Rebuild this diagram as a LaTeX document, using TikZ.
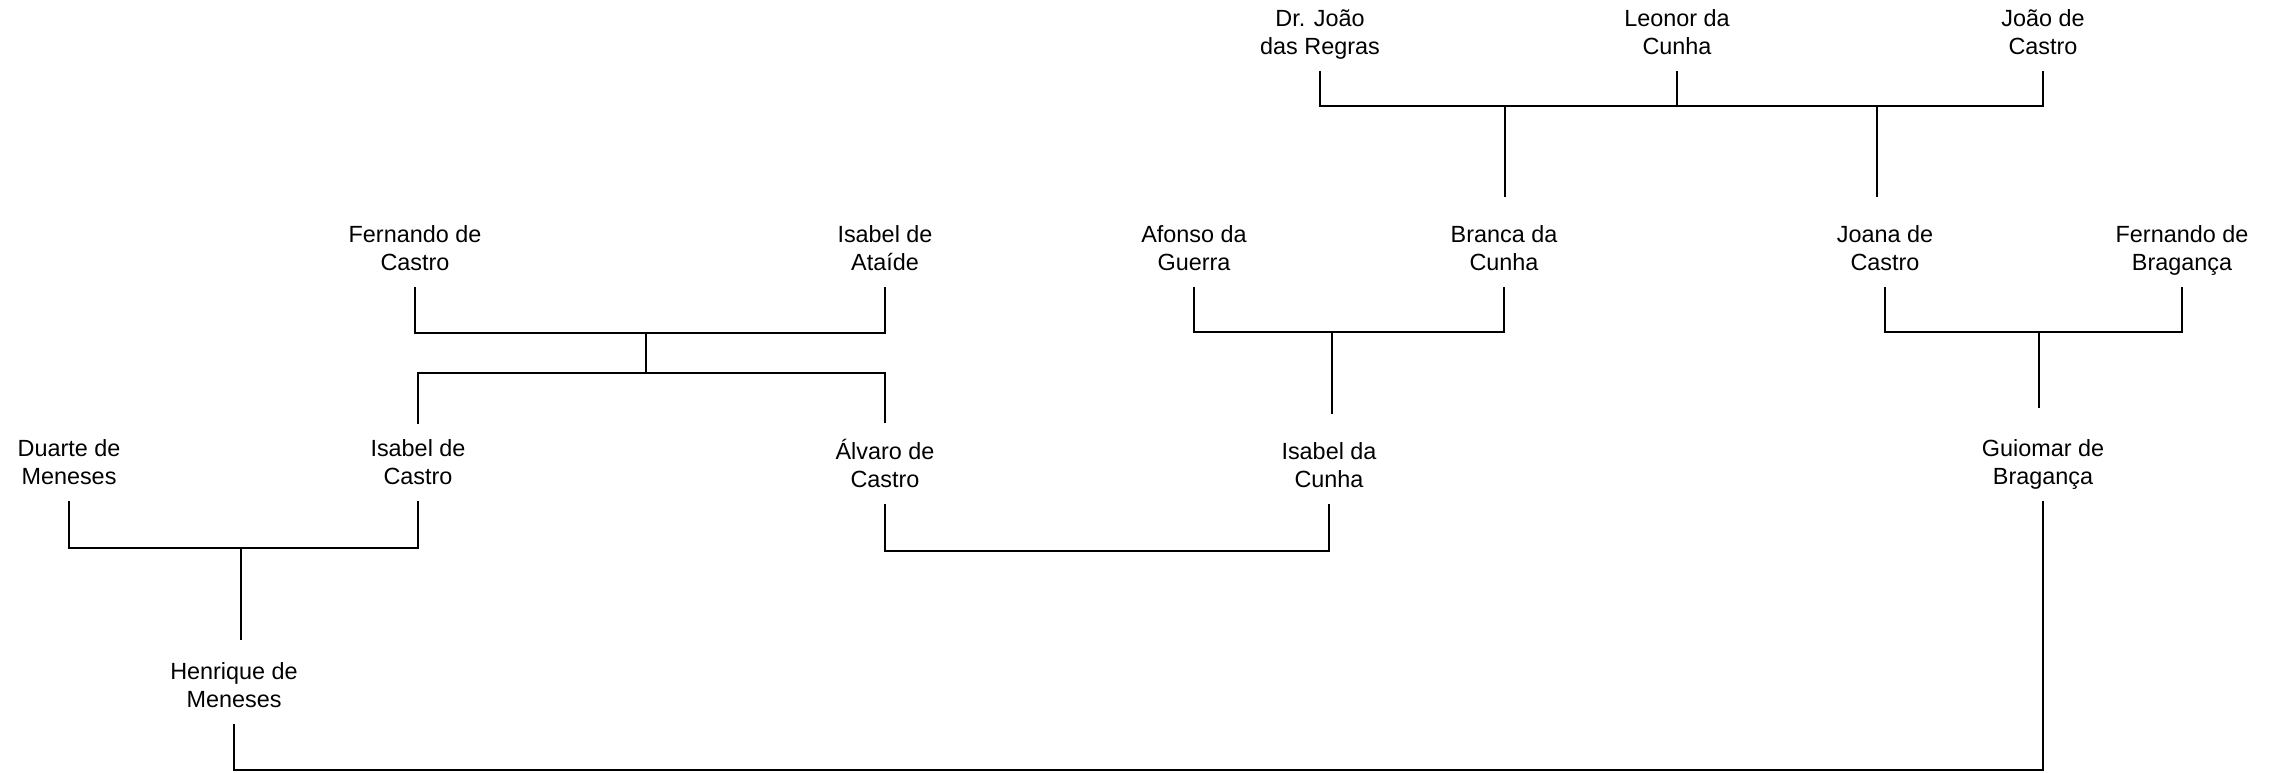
\documentclass[tikz,border=0pt]{standalone}
\usepackage{fontspec}
\setmainfont{Liberation Sans}
\usetikzlibrary{calc}

\begin{document}
\begin{tikzpicture}[x=0.5pt, y=-0.5pt,
  every node/.style={align=center, inner xsep=0pt, inner ysep=4pt, anchor=base,
    font=\fontsize{11.7}{14}\selectfont,
    execute at begin node=\strut, execute at end node=\strut},
  link/.style={line width=0.7pt},
  drop/.style={link, shorten >=10pt}]
\useasboundingbox (0,0) rectangle (2282,772);

% first generation
\node (regras) at (1320,54) {Dr. João\\das Regras};
\node (leonor) at (1677,54) {Leonor da\\Cunha};
\node (jcastro) at (2043,54) {João de\\Castro};

% second generation
\node (fcastro) at (415,270) {Fernando de\\Castro};
\node (ataide) at (885,270) {Isabel de\\Ataíde};
\node (afonso) at (1194,270) {Afonso da\\Guerra};
\node (branca) at (1504,270) {Branca da\\Cunha};
\node (joana) at (1885,270) {Joana de\\Castro};
\node (fbraganca) at (2182,270) {Fernando de\\Bragança};

% third generation
\node (duarte) at (69,484) {Duarte de\\Meneses};
\node (icastro) at (418,484) {Isabel de\\Castro};
\node (alvaro) at (885,487) {Álvaro de\\Castro};
\node (icunha) at (1329,487) {Isabel da\\Cunha};
\node (guiomar) at (2043,484) {Guiomar de\\Bragança};

% fourth generation
\node (henrique) at (234,707) {Henrique de\\Meneses};

% marriage bars
\coordinate (m1) at (1505,106);
\coordinate (m2) at (1877,106);
\coordinate (m3) at (646,333);
\coordinate (s3) at (646,373);
\coordinate (m4) at (1332,332);
\coordinate (m5) at (2039,332);
\coordinate (m6) at (241,548);
\coordinate (m7) at (1100,551);
\coordinate (m8) at (1100,770);

\draw[link] (regras.south) |- (leonor.south |- m1) -- (leonor.south);
\draw[link] (leonor.south |- m2) -| (jcastro.south);
\draw[drop] (m1) -- (m1 |- branca.north);
\draw[drop] (m2) -- (m2 |- joana.north);

\draw[link] (fcastro.south) |- (m3) -| (ataide.south);
\draw[link] (m3) -- (s3);
\draw[drop, shorten >=3.5pt] (s3) -| (icastro.north);
\draw[drop, shorten >=3.5pt] (s3) -| (alvaro.north);

\draw[link] (afonso.south) |- (m4) -| (branca.south);
\draw[drop] (m4) -- (m4 |- icunha.north);

\draw[link] (joana.south) |- (m5) -| (fbraganca.south);
\draw[drop, shorten >=11.5pt] (m5) -- (m5 |- guiomar.north);

\draw[link] (duarte.south) |- (m6) -| (icastro.south);
\draw[drop, shorten >=7pt] (m6) -- (m6 |- henrique.north);

\draw[link] (alvaro.south) |- (m7) -| (icunha.south);
\draw[link] (henrique.south) |- (m8) -| (guiomar.south);
\end{tikzpicture}
\end{document}
